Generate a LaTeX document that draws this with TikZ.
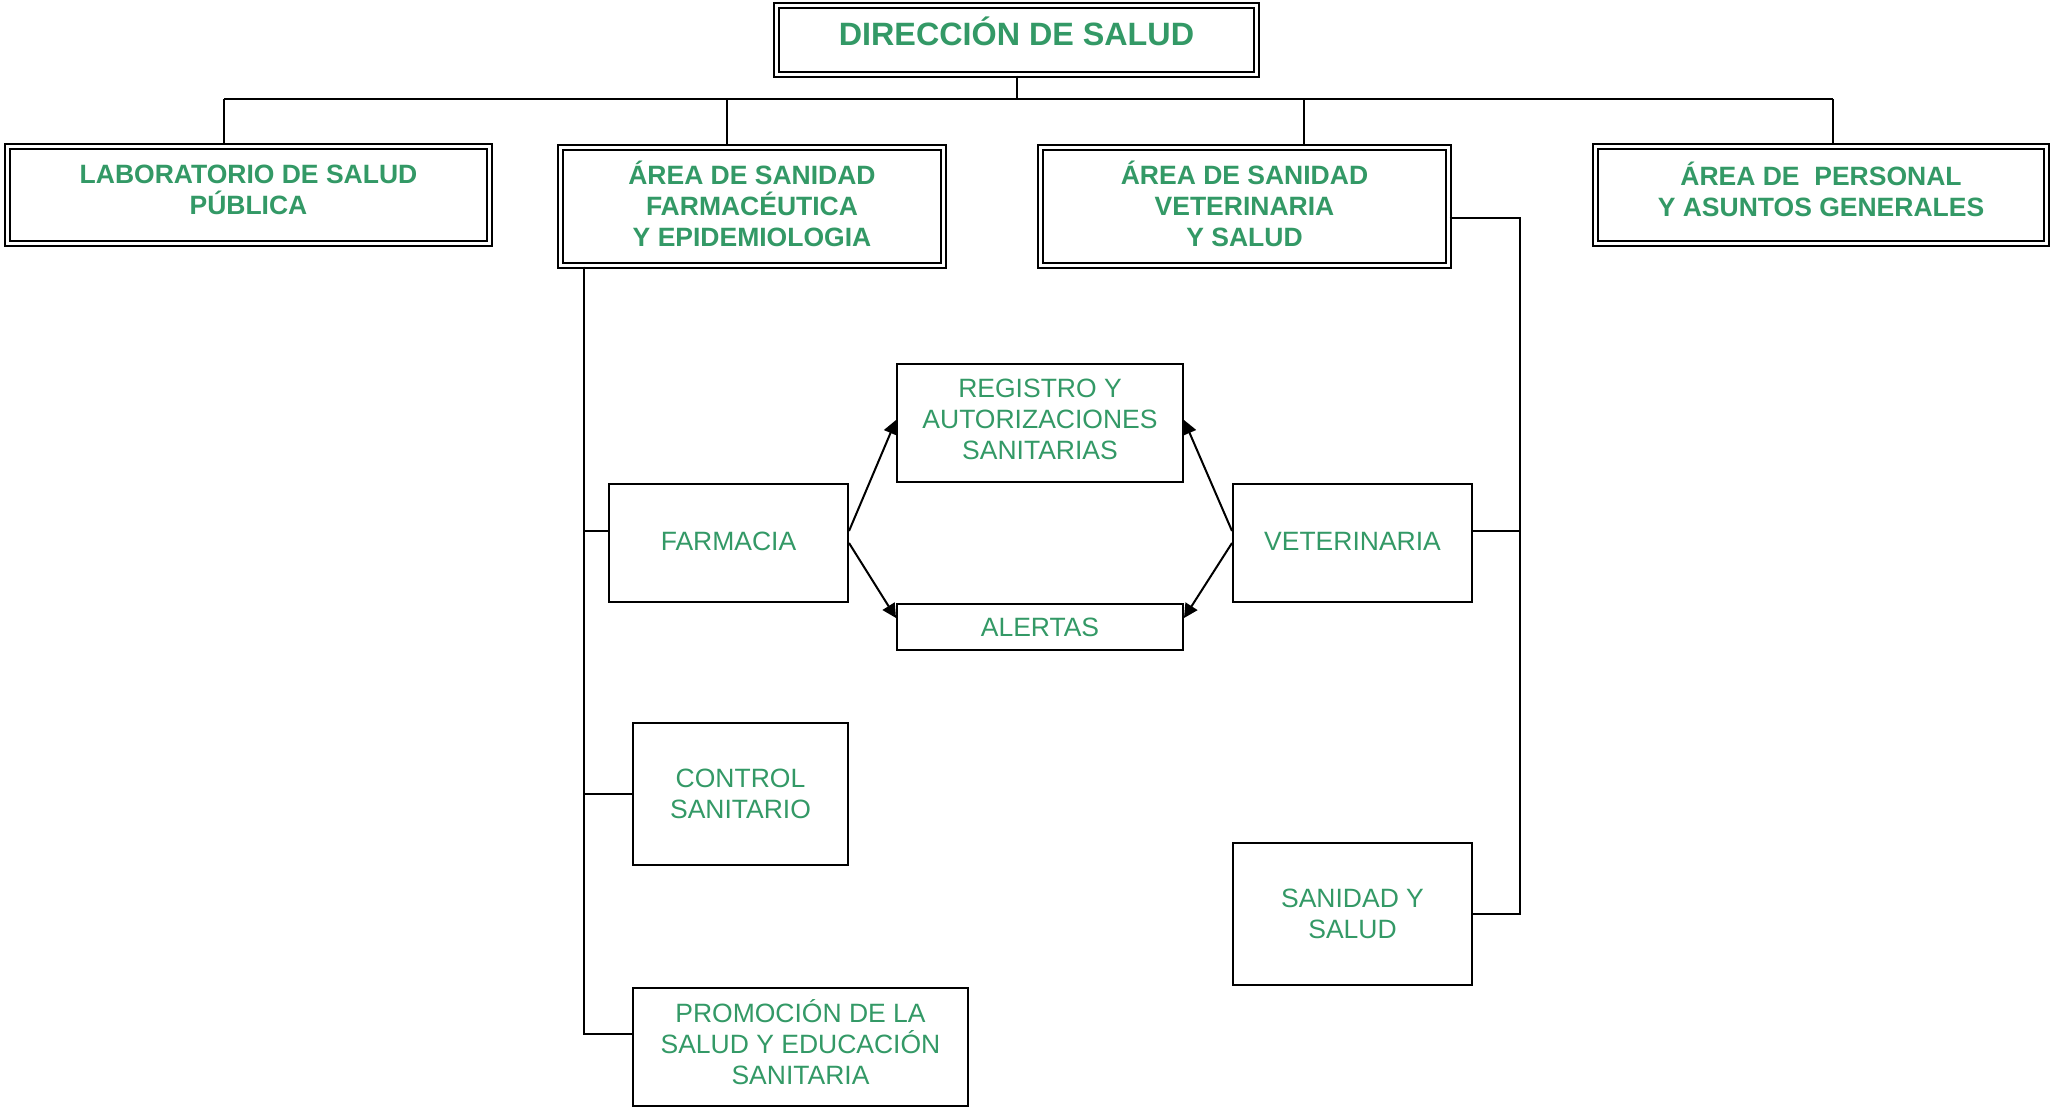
\documentclass[tikz,border=0pt]{standalone}
\usepackage{fontspec}
\setmainfont{Liberation Sans}
\usetikzlibrary{arrows.meta}
\definecolor{tgreen}{RGB}{51,153,102}
\tikzset{
  dbox/.style={draw=black, double=white, line width=2.2pt, double distance=2.5pt, inner sep=0pt, align=center, text=tgreen, font=\fontsize{26.5}{31}\selectfont\bfseries},
  sbox/.style={draw=black, line width=2pt, inner sep=0pt, align=center, text=tgreen, font=\fontsize{26.5}{31}\selectfont},
  conn/.style={draw=black, line width=2pt},
  arr/.style={draw=black, line width=2pt, -{Triangle[length=14pt,width=14pt]}}
}
\begin{document}
\begin{tikzpicture}[x=1pt,y=-1pt]
\useasboundingbox[fill=white] (0,0) rectangle (2051,1108);
% top
\node[dbox, minimum width=480pt, minimum height=69pt, font=\fontsize{32.3}{36}\selectfont\bfseries, text height=23pt, text depth=12pt] (dir) at (1016.5,40) {DIRECCIÓN DE SALUD};
\node[dbox, minimum width=482pt, minimum height=97pt, text depth=10pt] (lab) at (248.5,195) {LABORATORIO DE SALUD\\PÚBLICA};
\node[dbox, minimum width=383pt, minimum height=118pt, text depth=5pt] (afarm) at (752,206.5) {ÁREA DE SANIDAD\\FARMACÉUTICA\\Y EPIDEMIOLOGIA};
\node[dbox, minimum width=408pt, minimum height=118pt, text depth=5pt] (avet) at (1244.5,206.5) {ÁREA DE SANIDAD\\VETERINARIA\\Y SALUD};
\node[dbox, minimum width=451pt, minimum height=97pt, text depth=12pt] (apers) at (1821,195) {ÁREA DE\ \ PERSONAL\\Y ASUNTOS GENERALES};
% lower
\node[sbox, minimum width=286pt, minimum height=118pt, text depth=7pt] (reg) at (1040,423) {REGISTRO Y\\AUTORIZACIONES\\SANITARIAS};
\node[sbox, minimum width=286pt, minimum height=46pt] (alert) at (1040,627) {ALERTAS};
\node[sbox, minimum width=239pt, minimum height=118pt, text depth=4pt] (farm) at (728.5,543) {FARMACIA};
\node[sbox, minimum width=239pt, minimum height=118pt, text depth=4pt] (vet) at (1352.5,543) {VETERINARIA};
\node[sbox, minimum width=215pt, minimum height=142pt, text depth=-2pt] (ctrl) at (740.5,794) {CONTROL\\SANITARIO};
\node[sbox, minimum width=335pt, minimum height=118pt, text depth=10pt] (prom) at (800.5,1047) {PROMOCIÓN DE LA\\SALUD Y EDUCACIÓN\\SANITARIA};
\node[sbox, minimum width=239pt, minimum height=142pt] (san) at (1352.5,914) {SANIDAD Y\\SALUD};
% bus
\coordinate (b1) at (224,99);
\coordinate (b2) at (727,99);
\coordinate (b3) at (1304,99);
\coordinate (b4) at (1833,99);
\draw[conn] (dir.south) -- (dir.south |- b1);
\draw[conn] (b1) -- (b4);
\draw[conn] (b1) -- (b1 |- lab.north);
\draw[conn] (b2) -- (b2 |- afarm.north);
\draw[conn] (b3) -- (b3 |- avet.north);
\draw[conn] (b4) -- (b4 |- apers.north);
% left spine
\coordinate (lf) at (584,531);
\coordinate (lc) at (584,794);
\coordinate (lp) at (584,1034);
\draw[conn] (afarm.south -| lf) -- (lp) -- (lp -| prom.west);
\draw[conn] (lf) -- (lf -| farm.west);
\draw[conn] (lc) -- (ctrl.west);
% right spine
\coordinate (rt) at (1520,218);
\coordinate (rv) at (1520,531);
\coordinate (rs) at (1520,914);
\draw[conn] (rt -| avet.east) -- (rt) -- (rs) -- (san.east);
\draw[conn] (rv) -- (rv -| vet.east);
% arrows
\draw[arr] ([yshift=12pt]farm.east) -- ([yshift=3pt]reg.west);
\draw[arr] (farm.east) -- ([yshift=9pt]alert.west);
\draw[arr] ([yshift=12pt]vet.west) -- ([yshift=3pt]reg.east);
\draw[arr] (vet.west) -- ([yshift=9pt]alert.east);
\end{tikzpicture}
\end{document}
